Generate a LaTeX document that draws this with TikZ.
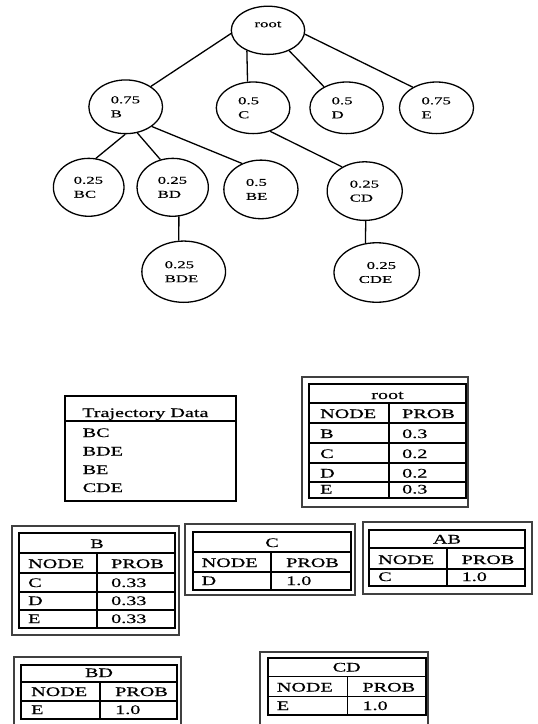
\documentclass[tikz,border=0pt]{standalone}
\usepackage{fontspec}
\newfontfamily\tfont[FakeStretch=1.55,FakeBold=0.5]{Liberation Serif}
\newfontfamily\nfont[FakeStretch=1.6,FakeBold=0.3]{Liberation Serif}
\usetikzlibrary{shapes.geometric}
\tikzset{
  tn/.style={draw, ellipse, line width=1.3pt, inner sep=0pt, text width=30pt, align=left,
    font=\nfont\fontsize{10.5}{14}\selectfont},
  edge/.style={line width=1.3pt},
  tb/.style={line width=1.3pt},
  outerbox/.style={line width=1.7pt, draw=black!75},
  innerbox/.style={line width=1.7pt},
  grid/.style={line width=1.2pt},
  tx/.style={font=\tfont\fontsize{13}{15}\selectfont, inner sep=0pt},
  txl/.style={tx, anchor=base west},
  txc/.style={tx, anchor=base},
}
\begin{document}
\begin{tikzpicture}[x=1pt,y=-1pt]
\useasboundingbox (0,0) rectangle (538,724);
% ---------- tree ----------
\node[tn, minimum width=73.4pt, minimum height=48.2pt,
  label={[font=\nfont\fontsize{10.5}{14}\selectfont, yshift=6pt]center:root}] (root) at (268,30.3) {};
\node[tn, minimum width=73.7pt, minimum height=53.7pt] (B) at (125.7,106.8) {0.75\\B};
\node[tn, minimum width=73.6pt, minimum height=51.6pt] (C) at (253.1,107.8) {0.5\\C};
\node[tn, minimum width=73.4pt, minimum height=51.6pt] (D) at (346.6,107.8) {0.5\\D};
\node[tn, minimum width=74.1pt, minimum height=51.6pt] (E) at (436.5,107.8) {0.75\\E};
\node[tn, minimum width=70.6pt, minimum height=57.9pt] (BC) at (88.7,187.3) {0.25\\BC};
\node[tn, minimum width=71.3pt, minimum height=57.9pt] (BD) at (172.7,187.3) {0.25\\BD};
\node[tn, minimum width=74.1pt, minimum height=58.6pt] (BE) at (260.9,189.4) {0.5\\BE};
\node[tn, minimum width=75.1pt, minimum height=58.6pt] (CD) at (364.7,191.1) {0.25\\CD};
\node[tn, minimum width=83.7pt, minimum height=61.3pt, text width=38pt] (BDE) at (183.7,271.7) {0.25\\BDE};
\node[tn, minimum width=85.4pt, minimum height=59.5pt, text width=36pt] (CDE) at (376.7,272.5) {\hspace*{8pt}0.25\\CDE};
\draw[edge] (root.185.5) -- (B.39.5);
\draw[edge] (root.224.9) -- (C.102.9);
\draw[edge] (root.316.4) -- (D.137);
\draw[edge] (root.354.4) -- (E.139.4);
\draw[edge] (B.269) -- (BC.76);
\draw[edge] (B.294.7) -- (BD.114);
\draw[edge] (B.323) -- (BE.126);
\draw[edge] (C.306) -- (CD.133.7);
\draw[edge] (BD.282.5) -- (BDE.99);
\draw[edge] (CD.272) -- (CDE.111);
% ---------- trajectory data ----------
\draw[tb] (65,396) rectangle (236,501);
\draw[tb] (65,421) -- (237,421);
\node[txl] (trh) at (82,417) {Trajectory Data};
\node[txl] (tr1) at (82.5,437) {BC};
\node[txl] (tr2) at (82.5,455.5) {BDE};
\node[txl] (tr3) at (82.5,474) {BE};
\node[txl] (tr4) at (82.5,492) {CDE};
% ---------- root table ----------
\draw[outerbox] (302,377) rectangle (468,507);
\draw[innerbox] (309,384) rectangle (466,498);
\foreach \y in {403,423,443,463,482} \draw[grid] (309,\y) -- (466,\y);
\draw[grid] (389,403) -- (389,498);
\node[txc] (rh) at (387.5,399) {root};
\node[txl] (r1a) at (320,418) {NODE}; \node[txl] (r1b) at (402,418) {PROB};
\node[txl] (r2a) at (320,438) {B};    \node[txl] (r2b) at (402,438) {0.3};
\node[txl] (r3a) at (320,458) {C};    \node[txl] (r3b) at (402,458) {0.2};
\node[txl] (r4a) at (320,477.5) {D};  \node[txl] (r4b) at (402,477.5) {0.2};
\node[txl] (r5a) at (320,493.5) {E};  \node[txl] (r5b) at (402,493.5) {0.3};
% ---------- B table ----------
\draw[outerbox] (12,526) rectangle (179,635);
\draw[innerbox] (19,533) rectangle (175,628);
\foreach \y in {553,573,592,610} \draw[grid] (19,\y) -- (175,\y);
\draw[grid] (97,553) -- (97,628);
\node[txc] (bh) at (97,548) {B};
\node[txl] (b1a) at (28,568) {NODE}; \node[txl] (b1b) at (111,568) {PROB};
\node[txl] (b2a) at (28,587) {C};    \node[txl] (b2b) at (111,587) {0.33};
\node[txl] (b3a) at (28,605) {D};    \node[txl] (b3b) at (111,605) {0.33};
\node[txl] (b4a) at (28,623) {E};    \node[txl] (b4b) at (111,623) {0.33};
% ---------- C table ----------
\draw[outerbox] (185,524) rectangle (355,595);
\draw[innerbox] (193,532) rectangle (351,590);
\foreach \y in {552,572} \draw[grid] (193,\y) -- (351,\y);
\draw[grid] (271,552) -- (271,590);
\node[txc] (ch) at (272,547) {C};
\node[txl] (c1a) at (201.5,567) {NODE}; \node[txl] (c1b) at (286,567) {PROB};
\node[txl] (c2a) at (201.5,585) {D};    \node[txl] (c2b) at (286,585) {1.0};
% ---------- AB table ----------
\draw[outerbox] (363,522) rectangle (532,594);
\draw[innerbox] (369,530) rectangle (525,586);
\foreach \y in {548,569} \draw[grid] (369,\y) -- (525,\y);
\draw[grid] (447,548) -- (447,586);
\node[txc] (abh) at (447,543.5) {AB};
\node[txl] (ab1a) at (378,564) {NODE}; \node[txl] (ab1b) at (461.5,564) {PROB};
\node[txl] (ab2a) at (378,581) {C};    \node[txl] (ab2b) at (461.5,581) {1.0};
% ---------- BD table ----------
\draw[outerbox] (14,657) rectangle (181,730);
\draw[innerbox] (21,665) rectangle (177,719);
\foreach \y in {682,701} \draw[grid] (21,\y) -- (177,\y);
\draw[grid] (100,682) -- (100,719);
\node[txc] (bdh) at (99,677) {BD};
\node[txl] (bd1a) at (31,696) {NODE}; \node[txl] (bd1b) at (115,696) {PROB};
\node[txl] (bd2a) at (31,714) {E};    \node[txl] (bd2b) at (115,714) {1.0};
% ---------- CD table ----------
\draw[outerbox] (260,652) rectangle (428.3,730);
\draw[innerbox] (267.7,657.7) rectangle (425.7,715);
\foreach \y in {676.7,696.7} \draw[grid] (267.7,\y) -- (425.7,\y);
\draw[grid] (347.7,676.7) -- (347.7,715);
\node[txc] (cdh) at (346.7,671.5) {CD};
\node[txl] (cd1a) at (276.7,691.5) {NODE}; \node[txl] (cd1b) at (362.3,691.5) {PROB};
\node[txl] (cd2a) at (276.7,710) {E};      \node[txl] (cd2b) at (362.3,710) {1.0};
\end{tikzpicture}
\end{document}
